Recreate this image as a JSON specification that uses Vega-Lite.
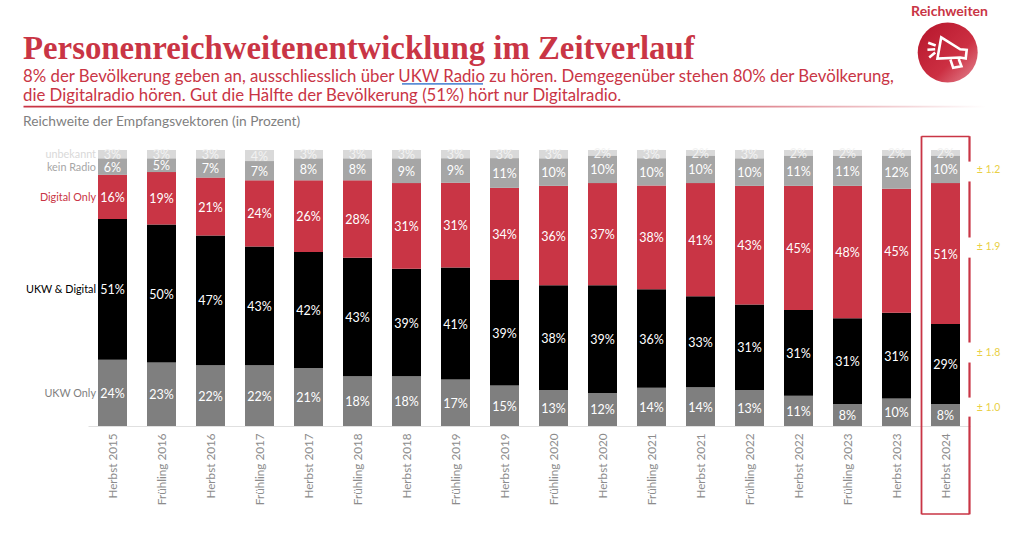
{
"$schema":"https://vega.github.io/schema/vega-lite/v6.json",
"width":882,"height":276,"autosize":"none",
"padding":{"left":88,"top":150,"right":54,"bottom":117},
"background":"white",
"config":{"view":{"stroke":null},"font":"Lato"},
"datasets":{"radio":[
{"period":"Herbst 2015","series":"UKW Only","rank":1,"share":0.24},{"period":"Herbst 2015","series":"UKW & Digital","rank":2,"share":0.51},{"period":"Herbst 2015","series":"Digital Only","rank":3,"share":0.16},{"period":"Herbst 2015","series":"kein Radio","rank":4,"share":0.06},{"period":"Herbst 2015","series":"unbekannt","rank":5,"share":0.03},
{"period":"Frühling 2016","series":"UKW Only","rank":1,"share":0.23},{"period":"Frühling 2016","series":"UKW & Digital","rank":2,"share":0.50},{"period":"Frühling 2016","series":"Digital Only","rank":3,"share":0.19},{"period":"Frühling 2016","series":"kein Radio","rank":4,"share":0.05},{"period":"Frühling 2016","series":"unbekannt","rank":5,"share":0.03},
{"period":"Herbst 2016","series":"UKW Only","rank":1,"share":0.22},{"period":"Herbst 2016","series":"UKW & Digital","rank":2,"share":0.47},{"period":"Herbst 2016","series":"Digital Only","rank":3,"share":0.21},{"period":"Herbst 2016","series":"kein Radio","rank":4,"share":0.07},{"period":"Herbst 2016","series":"unbekannt","rank":5,"share":0.03},
{"period":"Frühling 2017","series":"UKW Only","rank":1,"share":0.22},{"period":"Frühling 2017","series":"UKW & Digital","rank":2,"share":0.43},{"period":"Frühling 2017","series":"Digital Only","rank":3,"share":0.24},{"period":"Frühling 2017","series":"kein Radio","rank":4,"share":0.07},{"period":"Frühling 2017","series":"unbekannt","rank":5,"share":0.04},
{"period":"Herbst 2017","series":"UKW Only","rank":1,"share":0.21},{"period":"Herbst 2017","series":"UKW & Digital","rank":2,"share":0.42},{"period":"Herbst 2017","series":"Digital Only","rank":3,"share":0.26},{"period":"Herbst 2017","series":"kein Radio","rank":4,"share":0.08},{"period":"Herbst 2017","series":"unbekannt","rank":5,"share":0.03},
{"period":"Frühling 2018","series":"UKW Only","rank":1,"share":0.18},{"period":"Frühling 2018","series":"UKW & Digital","rank":2,"share":0.43},{"period":"Frühling 2018","series":"Digital Only","rank":3,"share":0.28},{"period":"Frühling 2018","series":"kein Radio","rank":4,"share":0.08},{"period":"Frühling 2018","series":"unbekannt","rank":5,"share":0.03},
{"period":"Herbst 2018","series":"UKW Only","rank":1,"share":0.18},{"period":"Herbst 2018","series":"UKW & Digital","rank":2,"share":0.39},{"period":"Herbst 2018","series":"Digital Only","rank":3,"share":0.31},{"period":"Herbst 2018","series":"kein Radio","rank":4,"share":0.09},{"period":"Herbst 2018","series":"unbekannt","rank":5,"share":0.03},
{"period":"Frühling 2019","series":"UKW Only","rank":1,"share":0.17},{"period":"Frühling 2019","series":"UKW & Digital","rank":2,"share":0.41},{"period":"Frühling 2019","series":"Digital Only","rank":3,"share":0.31},{"period":"Frühling 2019","series":"kein Radio","rank":4,"share":0.09},{"period":"Frühling 2019","series":"unbekannt","rank":5,"share":0.03},
{"period":"Herbst 2019","series":"UKW Only","rank":1,"share":0.15},{"period":"Herbst 2019","series":"UKW & Digital","rank":2,"share":0.39},{"period":"Herbst 2019","series":"Digital Only","rank":3,"share":0.34},{"period":"Herbst 2019","series":"kein Radio","rank":4,"share":0.11},{"period":"Herbst 2019","series":"unbekannt","rank":5,"share":0.03},
{"period":"Frühling 2020","series":"UKW Only","rank":1,"share":0.13},{"period":"Frühling 2020","series":"UKW & Digital","rank":2,"share":0.38},{"period":"Frühling 2020","series":"Digital Only","rank":3,"share":0.36},{"period":"Frühling 2020","series":"kein Radio","rank":4,"share":0.10},{"period":"Frühling 2020","series":"unbekannt","rank":5,"share":0.03},
{"period":"Herbst 2020","series":"UKW Only","rank":1,"share":0.12},{"period":"Herbst 2020","series":"UKW & Digital","rank":2,"share":0.39},{"period":"Herbst 2020","series":"Digital Only","rank":3,"share":0.37},{"period":"Herbst 2020","series":"kein Radio","rank":4,"share":0.10},{"period":"Herbst 2020","series":"unbekannt","rank":5,"share":0.02},
{"period":"Frühling 2021","series":"UKW Only","rank":1,"share":0.14},{"period":"Frühling 2021","series":"UKW & Digital","rank":2,"share":0.36},{"period":"Frühling 2021","series":"Digital Only","rank":3,"share":0.38},{"period":"Frühling 2021","series":"kein Radio","rank":4,"share":0.10},{"period":"Frühling 2021","series":"unbekannt","rank":5,"share":0.03},
{"period":"Herbst 2021","series":"UKW Only","rank":1,"share":0.14},{"period":"Herbst 2021","series":"UKW & Digital","rank":2,"share":0.33},{"period":"Herbst 2021","series":"Digital Only","rank":3,"share":0.41},{"period":"Herbst 2021","series":"kein Radio","rank":4,"share":0.10},{"period":"Herbst 2021","series":"unbekannt","rank":5,"share":0.02},
{"period":"Frühling 2022","series":"UKW Only","rank":1,"share":0.13},{"period":"Frühling 2022","series":"UKW & Digital","rank":2,"share":0.31},{"period":"Frühling 2022","series":"Digital Only","rank":3,"share":0.43},{"period":"Frühling 2022","series":"kein Radio","rank":4,"share":0.10},{"period":"Frühling 2022","series":"unbekannt","rank":5,"share":0.03},
{"period":"Herbst 2022","series":"UKW Only","rank":1,"share":0.11},{"period":"Herbst 2022","series":"UKW & Digital","rank":2,"share":0.31},{"period":"Herbst 2022","series":"Digital Only","rank":3,"share":0.45},{"period":"Herbst 2022","series":"kein Radio","rank":4,"share":0.11},{"period":"Herbst 2022","series":"unbekannt","rank":5,"share":0.02},
{"period":"Frühling 2023","series":"UKW Only","rank":1,"share":0.08},{"period":"Frühling 2023","series":"UKW & Digital","rank":2,"share":0.31},{"period":"Frühling 2023","series":"Digital Only","rank":3,"share":0.48},{"period":"Frühling 2023","series":"kein Radio","rank":4,"share":0.11},{"period":"Frühling 2023","series":"unbekannt","rank":5,"share":0.02},
{"period":"Herbst 2023","series":"UKW Only","rank":1,"share":0.10},{"period":"Herbst 2023","series":"UKW & Digital","rank":2,"share":0.31},{"period":"Herbst 2023","series":"Digital Only","rank":3,"share":0.45},{"period":"Herbst 2023","series":"kein Radio","rank":4,"share":0.12},{"period":"Herbst 2023","series":"unbekannt","rank":5,"share":0.02},
{"period":"Herbst 2024","series":"UKW Only","rank":1,"share":0.08},{"period":"Herbst 2024","series":"UKW & Digital","rank":2,"share":0.29},{"period":"Herbst 2024","series":"Digital Only","rank":3,"share":0.51},{"period":"Herbst 2024","series":"kein Radio","rank":4,"share":0.10},{"period":"Herbst 2024","series":"unbekannt","rank":5,"share":0.02}
]},
"data":{"name":"radio"},
"encoding":{
"x":{"field":"period","type":"nominal","sort":null,"scale":{"paddingInner":0.41,"paddingOuter":0.205},
"axis":{"title":null,"labelAngle":-90,"labelAlign":"right","labelBaseline":"middle","labelFont":"Lato","labelFontSize":11.7,"labelColor":"#8c8c8c","labelPadding":7,"ticks":false,"domainColor":"#e0e0e0","labelOverlap":false}}
},
"layer":[
{"mark":{"type":"bar","width":29},
"encoding":{
"y":{"field":"share","type":"quantitative","stack":"normalize","scale":{"domain":[0,1],"nice":false},"axis":null},
"order":{"field":"rank"},
"color":{"field":"series","type":"nominal","legend":null,"scale":{"domain":["UKW Only","UKW & Digital","Digital Only","kein Radio","unbekannt"],"range":["#7f7f7f","#000000","#c93545","#a6a6a6","#d9d9d9"]}}}},
{"mark":{"type":"text","font":"Lato","dy":1},
"encoding":{
"y":{"field":"share","type":"quantitative","stack":"normalize","bandPosition":0.5},
"order":{"field":"rank"},
"text":{"field":"share","format":".0%"},
"size":{"field":"series","legend":null,"scale":{"domain":["UKW Only","UKW & Digital","Digital Only","kein Radio","unbekannt"],"range":[12.5,12.5,12.5,9.5,8.5]}},
"color":{"condition":{"test":"datum.series==='unbekannt'","value":"#f2f2f2"},"value":"white"}}},
{"transform":[{"filter":"datum.period==='Herbst 2015'"}],
"mark":{"type":"text","align":"right","dx":-16.5,"dy":1,"font":"Lato","fontSize":10.8},
"encoding":{
"y":{"field":"share","type":"quantitative","stack":"normalize","bandPosition":0.5},
"order":{"field":"rank"},
"text":{"field":"series"},
"color":{"field":"series","legend":null,"scale":{"domain":["UKW Only","UKW & Digital","Digital Only","kein Radio","unbekannt"],"range":["#858585","#000000","#c93545","#7a7a7a","#c8c8c8"]}}}},
{"data":{"values":[{"note":"Personenreichweitenentwicklung im Zeitverlauf"}]},
"mark":{"type":"text","align":"left","baseline":"alphabetic","dx":-89.5,"font":"Liberation Serif","fontWeight":"bold","fontSize":32.8,"color":"#c93545"},
"encoding":{"x":{"datum":"Herbst 2015"},"y":{"datum":1.328},"text":{"field":"note"}}},
{"data":{"values":[{"note":"8% der Bevölkerung geben an, ausschliesslich über UKW Radio zu hören. Demgegenüber stehen 80% der Bevölkerung,"}]},
"mark":{"type":"text","align":"left","baseline":"alphabetic","dx":-89.5,"font":"Lato","fontSize":16.8,"color":"#c93545"},
"encoding":{"x":{"datum":"Herbst 2015"},"y":{"datum":1.248},"text":{"field":"note"}}},
{"data":{"values":[{"note":"die Digitalradio hören. Gut die Hälfte der Bevölkerung (51%) hört nur Digitalradio."}]},
"mark":{"type":"text","align":"left","baseline":"alphabetic","dx":-89.5,"font":"Lato","fontSize":16.8,"color":"#c93545"},
"encoding":{"x":{"datum":"Herbst 2015"},"y":{"datum":1.179},"text":{"field":"note"}}},
{"data":{"values":[{"note":"Reichweite der Empfangsvektoren (in Prozent)"}]},
"mark":{"type":"text","align":"left","dx":-89.5,"font":"Lato","fontSize":13.75,"color":"#7f7f7f"},
"encoding":{"x":{"datum":"Herbst 2015"},"y":{"datum":1.1},"text":{"field":"note"}}},
{"data":{"values":[{"note":"Reichweiten"}]},
"mark":{"type":"text","font":"Lato","fontWeight":"bold","fontSize":14,"color":"#c93545","dx":4},
"encoding":{"x":{"datum":"Herbst 2024"},"y":{"datum":1.5},"text":{"field":"note"}}},
{"data":{"values":[{"note":"rule"}]},
"mark":{"type":"rect","width":962,"fill":{"x1":0,"x2":1,"y1":0,"y2":0,"gradient":"linear","stops":[{"offset":0,"color":"#c93545"},{"offset":0.6,"color":"#c93545"},{"offset":1,"color":"#ffffff"}]}},
"encoding":{"x":{"datum":"Herbst 2019"},"y":{"datum":1.16},"y2":{"datum":1.154}}},
{"data":{"values":[{"note":"underline"}]},
"mark":{"type":"rect","width":81,"xOffset":-13,"fill":"#5b8fd6"},
"encoding":{"x":{"datum":"Frühling 2019"},"y":{"datum":1.2425},"y2":{"datum":1.2365},"color":{"value":"#5b8fd6"}}},
{"data":{"values":[{"note":"badge"}]},
"mark":{"type":"point","filled":true,"shape":"circle","size":3600,"xOffset":2.2,"opacity":1,"fill":{"x1":0,"y1":0,"x2":1,"y2":1,"gradient":"linear","stops":[{"offset":0,"color":"#b5152b"},{"offset":0.6,"color":"#cc2f42"},{"offset":1,"color":"#e58a96"}]}},
"encoding":{"x":{"datum":"Herbst 2024"},"y":{"datum":1.353}}},
{"data":{"values":[{"note":"megaphone"}]},
"mark":{"type":"point","filled":false,"xOffset":2.2,"size":2500,"stroke":"white","strokeWidth":2.6,"opacity":1,"shape":"M -0.26 -0.61 L 0.5 -0.13 L 0.76 -0.11 L 0.72 0.24 L 0.5 0.2 L -0.41 0.24 Z M 0.11 0.28 L 0.22 0.61 L 0.55 0.55 L 0.44 0.26 M -0.78 -0.39 L -0.48 -0.28 M -0.81 -0.11 L -0.5 -0.13 M -0.74 0.2 L -0.5 0"},
"encoding":{"x":{"datum":"Herbst 2024"},"y":{"datum":1.353}}},
{"data":{"values":[{"side":"top"}]},
"mark":{"type":"rect","width":48,"fill":"#c93545"},
"encoding":{"x":{"datum":"Herbst 2024"},"y":{"datum":1.052},"y2":{"datum":1.046}}},
{"data":{"values":[{"side":"bottom"}]},
"mark":{"type":"rect","width":48,"fill":"#c93545"},
"encoding":{"x":{"datum":"Herbst 2024"},"y":{"datum":-0.316},"y2":{"datum":-0.322}}},
{"data":{"values":[{"side":"left"}]},
"mark":{"type":"rule","xOffset":-24,"stroke":"#c93545","strokeWidth":1.8},
"encoding":{"x":{"datum":"Herbst 2024"},"y":{"datum":1.05},"y2":{"datum":-0.32}}},
{"data":{"values":[{"a":1.05,"b":0.958},{"a":0.886,"b":0.683},{"a":0.61,"b":0.3025},{"a":0.23,"b":0.103},{"a":0.034,"b":-0.32}]},
"mark":{"type":"rule","xOffset":24,"stroke":"#c93545","strokeWidth":2.2},
"encoding":{"x":{"datum":"Herbst 2024"},"y":{"field":"a","type":"quantitative"},"y2":{"field":"b"}}},
{"data":{"values":[{"margin":"± 1.2","at":0.926},{"margin":"± 1.9","at":0.647},{"margin":"± 1.8","at":0.266},{"margin":"± 1.0","at":0.067}]},
"mark":{"type":"text","dx":43,"font":"Lato","fontSize":10.5,"color":"#e9cf45"},
"encoding":{"x":{"datum":"Herbst 2024"},"y":{"field":"at","type":"quantitative"},"text":{"field":"margin"}}}
]
}
